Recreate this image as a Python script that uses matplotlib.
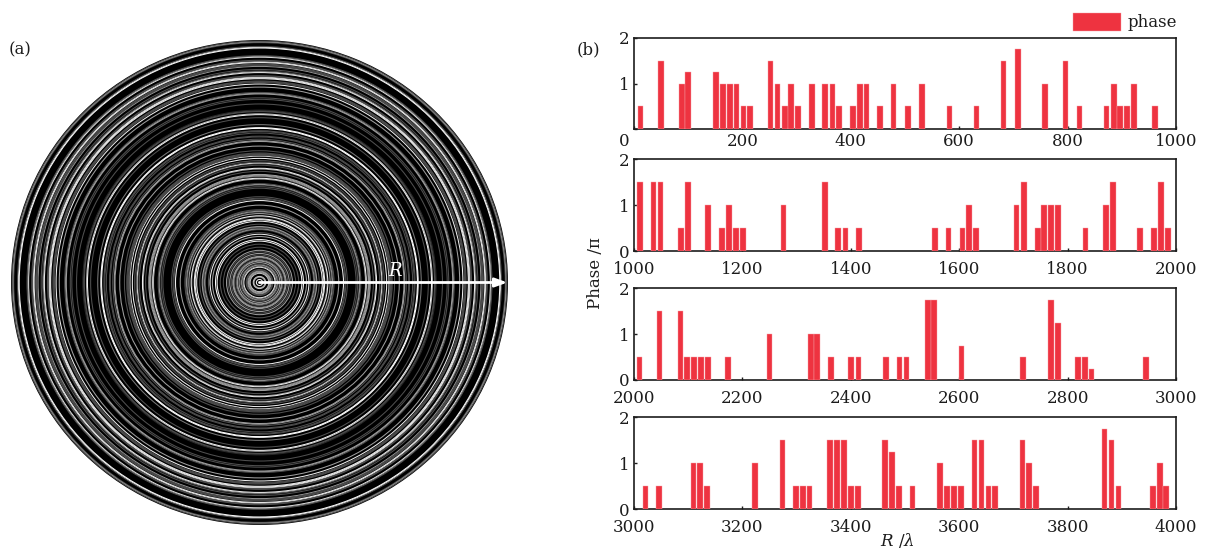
#!/usr/bin/env python3
"""Phase ring mask (a) and its phase profile per radius range (b)."""

import matplotlib
matplotlib.use("Agg")
import matplotlib.pyplot as plt
from matplotlib.collections import PatchCollection
from matplotlib.patches import Wedge

W, H = 1206, 551
RED = "#ee3340"
INK = "#1c1c1c"
RING_WIDTH = 17

r_0 = [12, 50, 88, 100, 151, 164, 177, 189, 202, 214, 252, 265, 278, 290, 303, 328,
       353, 366, 378, 404, 417, 429, 454, 479, 506, 531, 582, 632, 682, 708, 758,
       796, 822, 872, 885, 897, 910, 922, 961]
phase_0 = [.5, 1.5, 1, 1.25, 1.25, 1, 1, 1, .5, .5, 1.5, 1, .5, 1, .5, 1,
           1, 1, .5, .5, 1, 1, .5, 1, .5, 1, .5, .5, 1.5, 1.75, 1,
           1.5, .5, .5, 1, .5, .5, 1, .5]

r_1 = [1011, 1036, 1049, 1087, 1100, 1137, 1162, 1175, 1188, 1201, 1276, 1352, 1377,
       1390, 1415, 1555, 1580, 1606, 1618, 1631, 1706, 1719, 1745, 1757, 1770, 1782,
       1833, 1871, 1884, 1934, 1959, 1972, 1985]
phase_1 = [1.5, 1.5, 1.5, .5, 1.5, 1, .5, 1, .5, .5, 1, 1.5, .5,
           .5, .5, .5, .5, .5, 1, .5, 1, 1.5, .5, 1, 1, 1,
           .5, 1, 1.5, .5, .5, 1.5, .5]

r_2 = [2010, 2047, 2086, 2098, 2111, 2123, 2136, 2174, 2250, 2326, 2338, 2363, 2401,
       2414, 2465, 2490, 2503, 2542, 2554, 2604, 2718, 2769, 2782, 2819, 2832, 2844, 2945]
phase_2 = [.5, 1.5, 1.5, .5, .5, .5, .5, .5, 1, 1, 1, .5, .5,
           .5, .5, .5, .5, 1.75, 1.75, .75, .5, 1.75, 1.25, .5, .5, .25, .5]

r_3 = [3021, 3046, 3110, 3122, 3135, 3223, 3274, 3299, 3312, 3324, 3362, 3375, 3388,
       3400, 3413, 3463, 3476, 3489, 3514, 3565, 3578, 3590, 3603, 3628, 3641, 3654,
       3666, 3717, 3729, 3742, 3868, 3881, 3894, 3957, 3970, 3982]
phase_3 = [.5, .5, 1, 1, .5, 1, 1.5, .5, .5, .5, 1.5, 1.5, 1.5,
           .5, .5, 1.5, 1.25, .5, .5, 1, .5, .5, .5, 1.5, 1.5, .5,
           .5, 1.5, 1, .5, 1.75, 1.5, .5, .5, 1, .5]

radii = [r_0, r_1, r_2, r_3]
phases = [phase_0, phase_1, phase_2, phase_3]
starts = [0, 1000, 2000, 3000]

plt.rcParams["font.family"] = ["DejaVu Serif"]
plt.rcParams["font.size"] = 12
plt.rcParams["mathtext.fontset"] = "dejavuserif"


def px_axes(fig, x0, y0, x1, y1):
    """Axes from pixel box, y measured from the top of the picture."""
    return fig.add_axes([x0 / W, 1 - y1 / H, (x1 - x0) / W, (y1 - y0) / H])


fig = plt.figure(figsize=(W / 100, H / 100), dpi=100)

# (a) rings, gray level follows the phase of each radius bin
ax = px_axes(fig, 11, 40, 508, 525)
ax.set_xlim(-4000, 4000)
ax.set_ylim(-4000, 4000)
ax.axis("off")
ax.add_patch(Wedge((0, 0), 4000, 0, 360, facecolor="black", edgecolor="none"))
rings, grays = [], []
for rs, ps in zip(radii, phases):
    for r, p in zip(rs, ps):
        rings.append(Wedge((0, 0), r + RING_WIDTH / 2, 0, 360, width=RING_WIDTH))
        grays.append(str(min(1.0, p / 1.6)))
ax.add_collection(PatchCollection(rings, facecolors=grays, edgecolors="none",
                                  linewidths=0))
ax.annotate("", xy=(3990, 0), xytext=(0, 0),
            arrowprops=dict(arrowstyle="-|>,head_width=0.22,head_length=0.6",
                            color="white", lw=2, shrinkA=0, shrinkB=0))
ax.text(2190, 190, "$R$", color="white", ha="center", va="center", fontsize=13)

# (b) phase bars
boxes = [(634, 38, 1176, 129), (634, 159, 1176, 251),
         (634, 288, 1176, 380), (634, 417, 1176, 509)]
axes = []
for box, rs, ps, start in zip(boxes, radii, phases, starts):
    a = px_axes(fig, *box)
    a.bar(rs, ps, width=10.5, color=RED, edgecolor="#f7a0a6", linewidth=0.3,
          label="phase", zorder=3)
    a.set_xlim(start, start + 1000)
    a.set_ylim(0, 2)
    a.set_yticks([0, 1, 2])
    a.set_xticks([start + 200 * i for i in range(6)])
    a.tick_params(direction="in", length=2, width=1, color=INK, labelcolor=INK)
    a.tick_params(axis="x", pad=3 if start == 0 else 7)
    a.tick_params(axis="y", pad=3)
    for s in a.spines.values():
        s.set_linewidth(1.2)
        s.set_color(INK)
    axes.append(a)

# first panel shares a single 0 placed in the corner
axes[0].set_yticklabels(["", "1", "2"])
axes[0].set_xticklabels([""] + [str(200 * i) for i in range(1, 6)])
axes[0].text(-0.0185, -0.134, "0", transform=axes[0].transAxes, ha="center",
             va="center", color=INK)

axes[0].legend(loc="center left", bbox_to_anchor=(1073 / W, 1 - 22 / H),
               bbox_transform=fig.transFigure, frameon=False, handlelength=2.85,
               handleheight=1.3, handletextpad=0.4, borderpad=0, borderaxespad=0,
               labelcolor=INK)

fig.text(596 / W, 1 - 273 / H, "Phase /π", rotation=90, ha="center", va="center",
         color=INK)
fig.text(897 / W, 1 - 541 / H, "$R$ /$\\lambda$", ha="center", va="center", color=INK)
fig.text(20 / W, 1 - 50 / H, "(a)", ha="center", va="center", color=INK)
fig.text(588 / W, 1 - 50 / H, "(b)", ha="center", va="center", color=INK)

fig.savefig("out.png", dpi=100, facecolor="white")
plt.close(fig)
